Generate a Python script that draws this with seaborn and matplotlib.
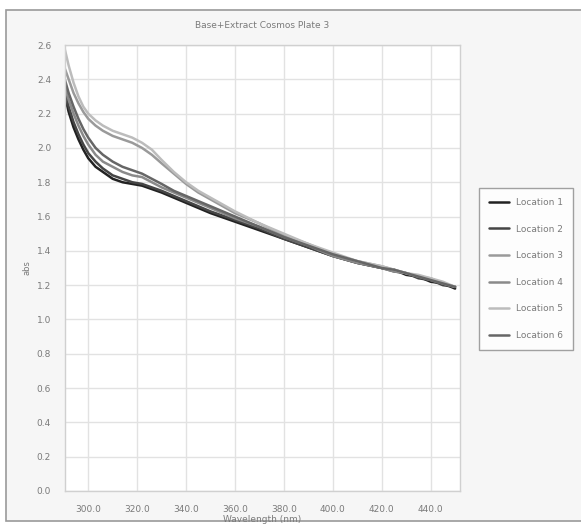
import numpy as np
import pandas as pd
import matplotlib
matplotlib.use("Agg")
import matplotlib.pyplot as plt
import seaborn as sns

wavelength = [290, 292, 294, 296, 298, 300, 303, 306, 310, 314, 318, 322, 326, 330, 335, 340,
              345, 350, 360, 370, 380, 390, 400, 410, 420, 425, 430, 435, 440, 445, 450]
loc1 = [2.33, 2.21, 2.12, 2.05, 1.99, 1.94, 1.89, 1.86, 1.82, 1.80, 1.79, 1.78, 1.76, 1.74, 1.71, 1.68,
        1.65, 1.62, 1.57, 1.52, 1.47, 1.42, 1.37, 1.33, 1.30, 1.29, 1.26, 1.25, 1.22, 1.21, 1.18]
loc2 = [2.35, 2.24, 2.15, 2.08, 2.02, 1.97, 1.92, 1.88, 1.84, 1.82, 1.80, 1.79, 1.77, 1.75, 1.72, 1.69,
        1.66, 1.63, 1.58, 1.53, 1.47, 1.42, 1.37, 1.33, 1.30, 1.28, 1.27, 1.24, 1.23, 1.20, 1.19]
loc3 = [2.48, 2.40, 2.32, 2.26, 2.21, 2.17, 2.13, 2.10, 2.07, 2.05, 2.03, 2.00, 1.96, 1.91, 1.85, 1.79,
        1.74, 1.70, 1.62, 1.56, 1.49, 1.44, 1.38, 1.34, 1.31, 1.29, 1.27, 1.25, 1.24, 1.21, 1.19]
loc4 = [2.38, 2.28, 2.20, 2.13, 2.07, 2.02, 1.96, 1.92, 1.89, 1.86, 1.84, 1.83, 1.80, 1.77, 1.74, 1.71,
        1.68, 1.65, 1.59, 1.54, 1.48, 1.43, 1.37, 1.33, 1.30, 1.28, 1.27, 1.25, 1.23, 1.21, 1.19]
loc5 = [2.60, 2.48, 2.38, 2.30, 2.24, 2.20, 2.16, 2.13, 2.10, 2.08, 2.06, 2.03, 1.99, 1.93, 1.86, 1.80,
        1.75, 1.71, 1.63, 1.56, 1.50, 1.44, 1.39, 1.34, 1.31, 1.29, 1.27, 1.26, 1.24, 1.22, 1.19]
loc6 = [2.42, 2.32, 2.24, 2.17, 2.11, 2.06, 2.00, 1.96, 1.92, 1.89, 1.87, 1.85, 1.82, 1.79, 1.75, 1.72,
        1.69, 1.66, 1.60, 1.54, 1.48, 1.43, 1.38, 1.34, 1.30, 1.29, 1.27, 1.25, 1.23, 1.21, 1.19]

locations = ["Location 1", "Location 2", "Location 3", "Location 4", "Location 5", "Location 6"]
series = [loc1, loc2, loc3, loc4, loc5, loc6]
x_ticks = [300, 320, 340, 360, 380, 400, 420, 440]
y_ticks = [0.0, 0.2, 0.4, 0.6, 0.8, 1.0, 1.2, 1.4, 1.6, 1.8, 2.0, 2.2, 2.4, 2.6]

df = pd.DataFrame({
    "Wavelength": np.tile(wavelength, len(locations)),
    "abs": np.concatenate(series),
    "Location": np.repeat(locations, len(wavelength)),
})

sns.set_theme(style="white")
plt.rcParams["font.family"] = ["DejaVu Sans"]

palette = {
    "Location 1": "#222222",
    "Location 2": "#454545",
    "Location 3": "#9a9a9a",
    "Location 4": "#8a8a8a",
    "Location 5": "#bcbcbc",
    "Location 6": "#666666",
}

fig = plt.figure(figsize=(5.81, 5.29), dpi=100)
fig.patch.set_facecolor("white")
# scanned page frame
frame = plt.Rectangle((6 / 581, 0.015), 1.0, 1 - 10 / 529 - 0.015, transform=fig.transFigure,
                      facecolor="#f6f6f6", edgecolor="#9a9a9a", linewidth=1.2, zorder=-10)
fig.patches.append(frame)

ax = fig.add_axes([65 / 581, 38 / 529, 395 / 581, 446 / 529])
ax.set_facecolor("white")
sns.lineplot(data=df, x="Wavelength", y="abs", hue="Location", palette=palette,
             hue_order=locations, linewidth=1.8, ax=ax, legend=True)

ax.set_xlim(290.5, 452)
ax.set_ylim(0, 2.6)
ax.set_xticks(x_ticks)
ax.set_xticklabels([f"{v:.1f}" for v in x_ticks])
ax.set_yticks(y_ticks)
ax.set_yticklabels([f"{v:.1f}" for v in y_ticks])
ax.tick_params(length=0, labelsize=6.5, colors="#7a7a7a", pad=10)
ax.grid(True, color="#e2e2e2", linewidth=1.0)
for s in ax.spines.values():
    s.set_color("#d0d0d0")
    s.set_linewidth(1.0)
ax.set_xlabel("Wavelength (nm)", fontsize=6.5, color="#7a7a7a", labelpad=1)
ax.set_ylabel("abs", fontsize=6, color="#7a7a7a", labelpad=4)
ax.set_title("Base+Extract Cosmos Plate 3", fontsize=6.5, color="#7a7a7a", pad=12)

handles, labels = ax.get_legend_handles_labels()
ax.legend(handles, labels, loc="upper left", bbox_to_anchor=(479 / 581, 1 - 188 / 529),
          bbox_transform=fig.transFigure, fontsize=6.5, frameon=True, fancybox=False,
          edgecolor="#8a8a8a", labelspacing=1.95, handlelength=2.2, borderpad=1.1,
          labelcolor="#7a7a7a", borderaxespad=0)

fig.savefig("out.png", dpi=100)
